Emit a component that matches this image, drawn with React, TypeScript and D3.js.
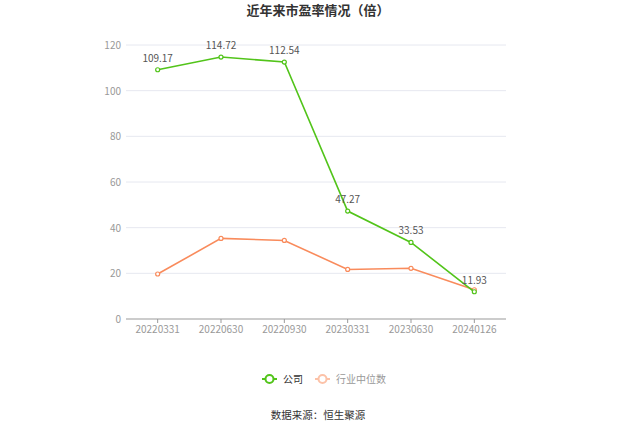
import React from "react";
import * as d3 from "d3";

const categories = ["20220331", "20220630", "20220930", "20230331", "20230630", "20240126"];
const companyValues = [109.17, 114.72, 112.54, 47.27, 33.53, 11.93];
const industryValues = [19.7, 35.3, 34.4, 21.7, 22.2, 12.8];
const yTicks = [0, 20, 40, 60, 80, 100, 120];

const GREEN = "#52c41a";
const ORANGE = "#f98b5c";

export default function App() {
  const W = 637, H = 431;
  const left = 126, right = 506, top = 45, bottom = 319;
  const x = d3.scaleBand<string>().domain(categories).range([left, right]);
  const y = d3.scaleLinear().domain([0, 120]).range([bottom, top]);
  const cx = (c: string) => (x(c) ?? 0) + x.bandwidth() / 2;
  const line = d3.line<number>().x((_, i) => cx(categories[i])).y((d) => y(d));
  const font = "'Microsoft YaHei', 'Noto Sans CJK SC', 'Noto Sans', sans-serif";

  return (
    <svg width={W} height={H} style={{ position: "absolute", left: 0, top: 0 }} fontFamily={font}>
      <rect width={W} height={H} fill="#fff" />
      <text x={318} y={15} textAnchor="middle" fontSize={13} fontWeight="bold" fill="#333">
        近年来市盈率情况（倍）
      </text>
      {yTicks.map((t) => (
        <g key={t}>
          {t !== 0 && <line x1={left} x2={right} y1={y(t)} y2={y(t)} stroke="#e6e8f0" strokeWidth={1} />}
          <text x={left - 5} y={y(t) + 4} textAnchor="end" fontSize={10} fill="#999">{t}</text>
        </g>
      ))}
      <line x1={left} x2={right} y1={bottom} y2={bottom} stroke="#999" strokeWidth={1} />
      {categories.map((c) => (
        <g key={c}>
          <line x1={cx(c)} x2={cx(c)} y1={bottom} y2={bottom + 4} stroke="#999" />
          <text x={cx(c)} y={bottom + 14} textAnchor="middle" fontSize={10} fill="#999">{c}</text>
        </g>
      ))}
      <path d={line(industryValues) ?? ""} fill="none" stroke={ORANGE} strokeWidth={1.6} />
      {industryValues.map((v, i) => (
        <circle key={i} cx={cx(categories[i])} cy={y(v)} r={2} fill="#fff" stroke={ORANGE} strokeWidth={1.2} />
      ))}
      <path d={line(companyValues) ?? ""} fill="none" stroke={GREEN} strokeWidth={1.6} />
      {companyValues.map((v, i) => (
        <g key={i}>
          <circle cx={cx(categories[i])} cy={y(v)} r={2} fill="#fff" stroke={GREEN} strokeWidth={1.2} />
          <text x={cx(categories[i])} y={y(v) - 8} textAnchor="middle" fontSize={10} fill="#555">
            {v.toFixed(2)}
          </text>
        </g>
      ))}
      <g>
        <line x1={262} x2={277} y1={379} y2={379} stroke={GREEN} strokeWidth={2} />
        <circle cx={269.5} cy={379} r={4} fill="#fff" stroke={GREEN} strokeWidth={2} />
        <text x={283} y={382.5} fontSize={10} fill="#333">公司</text>
        <line x1={315} x2={330} y1={379} y2={379} stroke="#fcc2a8" strokeWidth={2} />
        <circle cx={322.5} cy={379} r={4} fill="#fff" stroke="#fcc2a8" strokeWidth={2} />
        <text x={336} y={382.5} fontSize={10} fill="#999">行业中位数</text>
      </g>
      <text x={318} y={419} textAnchor="middle" fontSize={10.5} fill="#333">数据来源：恒生聚源</text>
    </svg>
  );
}
